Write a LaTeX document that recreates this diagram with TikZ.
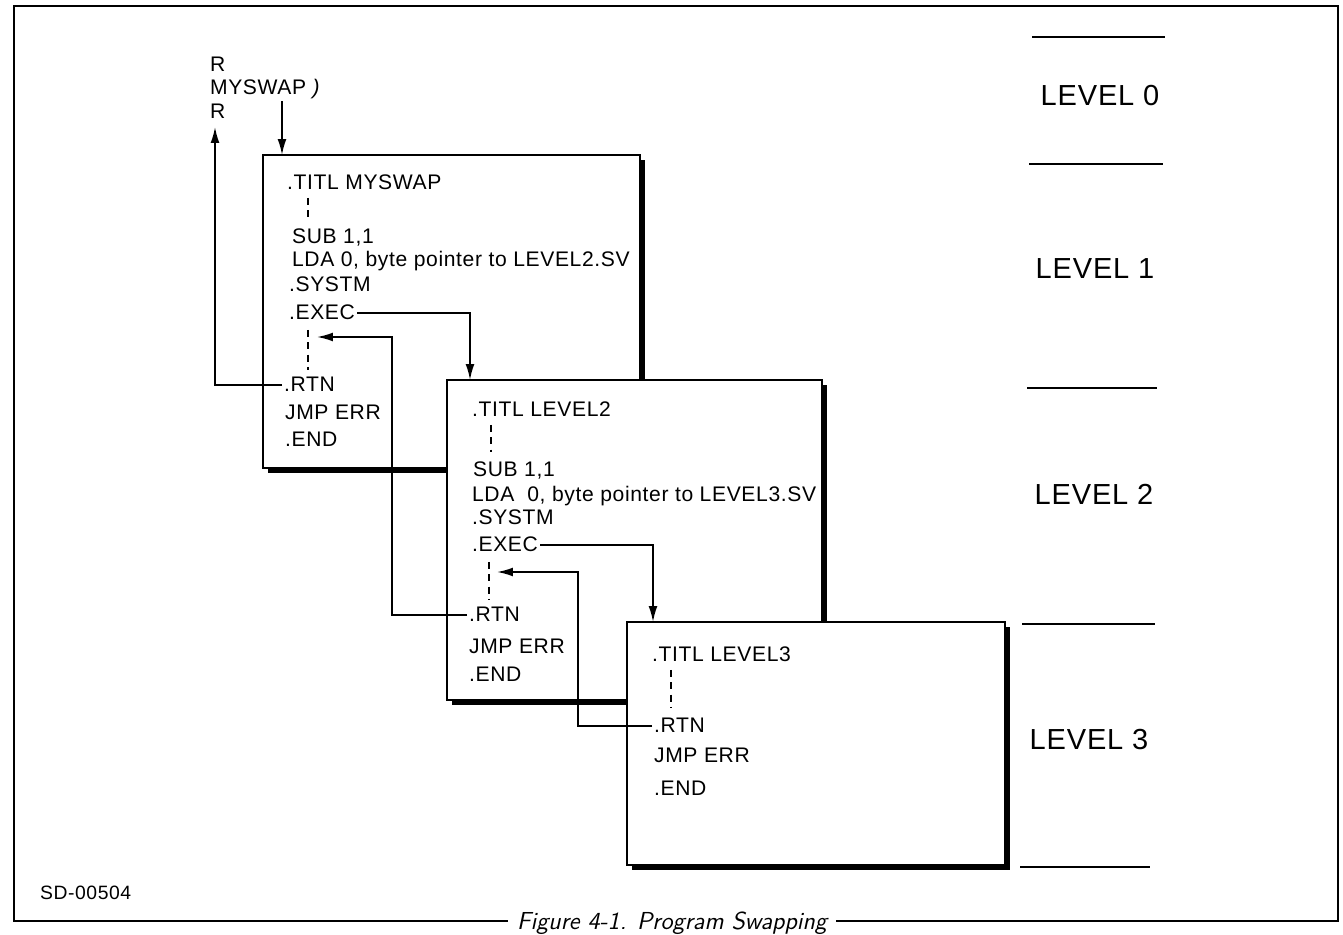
\documentclass[tikz,border=0pt]{standalone}
\usepackage{fontspec}
\setmainfont[LetterSpace=3]{Liberation Sans}
\usetikzlibrary{arrows.meta}

\begin{document}
\begin{tikzpicture}[x=0.02cm,y=-0.02cm,
  code/.style={anchor=base west,inner sep=1pt,font=\fontsize{12}{14}\selectfont},
  lvl/.style={font=\fontsize{16.5}{19}\selectfont},
  box/.style={draw,line width=1.5pt,fill=white},
  link/.style={line width=1pt,-{Latex[length=9pt,width=5pt]}},
  dots/.style={line width=1pt,dash pattern=on 4pt off 3pt},
  rule/.style={line width=1.1pt}]
  \useasboundingbox (0,0) rectangle (1343,935);

  % frame, broken by the caption at the bottom
  \node[font=\sffamily\itshape\fontsize{14}{16}\selectfont,anchor=north,inner sep=0pt] (cap) at (672,912) {Figure 4-1. Program Swapping};
  \coordinate (bl) at (14,921);
  \coordinate (tr) at (1338,6);
  \draw[rule] ([xshift=-5pt]cap.west |- bl) -- (bl) -- (bl |- tr) -- (tr) -- (tr |- bl) -- ([xshift=5pt]cap.east |- bl);
  \node[code,font=\fontsize{11}{13}\selectfont] (sd) at (38,899) {SD-00504};

  % level rules and names
  \foreach \ya/\xa/\xb in {37/1032/1165,164/1029/1163,388/1027/1157,624/1022/1155,867/1020/1150}
    \draw[rule] (\xa,\ya) -- (\xb,\ya);
  \node[lvl] (lev0) at (1100,96) {LEVEL 0};
  \node[lvl] (lev1) at (1095,269) {LEVEL 1};
  \node[lvl] (lev2) at (1094,494) {LEVEL 2};
  \node[lvl] (lev3) at (1089,740) {LEVEL 3};

  % program boxes, each with a shadow
  \fill (268,160) rectangle (645,473);
  \draw[box] (263,155) rectangle (640,468);
  \fill (452,385) rectangle (827,705);
  \draw[box] (447,380) rectangle (822,700);
  \fill (632,627) rectangle (1010,870);
  \draw[box] (627,622) rectangle (1005,865);

  % command line
  \node[code] (r1) at (208,72) {R};
  \node[code] (myswap) at (208,95) {MYSWAP \textit{)}};
  \node[code] (r2) at (208,119) {R};

  % MYSWAP
  \node[code] (titl1) at (285,190) {.TITL MYSWAP};
  \draw[dots] (308,198) -- (308,222);
  \node[code] (sub1) at (290,244) {SUB 1,1};
  \node[code] (lda1) at (290,267) {LDA 0, byte pointer to LEVEL2.SV};
  \node[code] (systm1) at (287,292) {.SYSTM};
  \node[code] (exec1) at (287,320) {.EXEC};
  \draw[dots] (308,330) -- (308,370);
  \node[code] (rtn1) at (282,392) {.RTN};
  \node[code] (jmp1) at (283,420) {JMP ERR};
  \node[code] (end1) at (283,447) {.END};

  % LEVEL2
  \node[code] (titl2) at (470,417) {.TITL LEVEL2};
  \draw[dots] (491,425) -- (491,452);
  \node[code] (sub2) at (471,477) {SUB 1,1};
  \node[code] (lda2) at (470,502) {LDA \ 0, byte pointer to LEVEL3.SV};
  \node[code] (systm2) at (470,525) {.SYSTM};
  \node[code] (exec2) at (470,552) {.EXEC};
  \draw[dots] (489,562) -- (489,600);
  \node[code] (rtn2) at (467,622) {.RTN};
  \node[code] (jmp2) at (467,654) {JMP ERR};
  \node[code] (end2) at (467,682) {.END};

  % LEVEL3
  \node[code] (titl3) at (650,662) {.TITL LEVEL3};
  \draw[dots] (671,670) -- (671,708);
  \node[code] (rtn3) at (652,733) {.RTN};
  \node[code] (jmp3) at (652,763) {JMP ERR};
  \node[code] (end3) at (652,795) {.END};

  % calls and returns
  \coordinate (in1) at (282,155);
  \coordinate (in2) at (470,380);
  \coordinate (in3) at (653,622);
  \coordinate (up0) at (215,127);
  \coordinate (turn1) at (392,337);
  \coordinate (back1) at (317,337);
  \coordinate (turn2) at (578,572);
  \coordinate (back2) at (497,572);
  \draw[link] (myswap.south -| in1) -- (in1);
  \draw[link] (rtn1.west) -| (up0);
  \draw[link] (exec1.east) -| (in2);
  \draw[link] (rtn2.west) -| (turn1) -- (back1);
  \draw[link] (exec2.east) -| (in3);
  \draw[link] (rtn3.west) -| (turn2) -- (back2);
\end{tikzpicture}
\end{document}
